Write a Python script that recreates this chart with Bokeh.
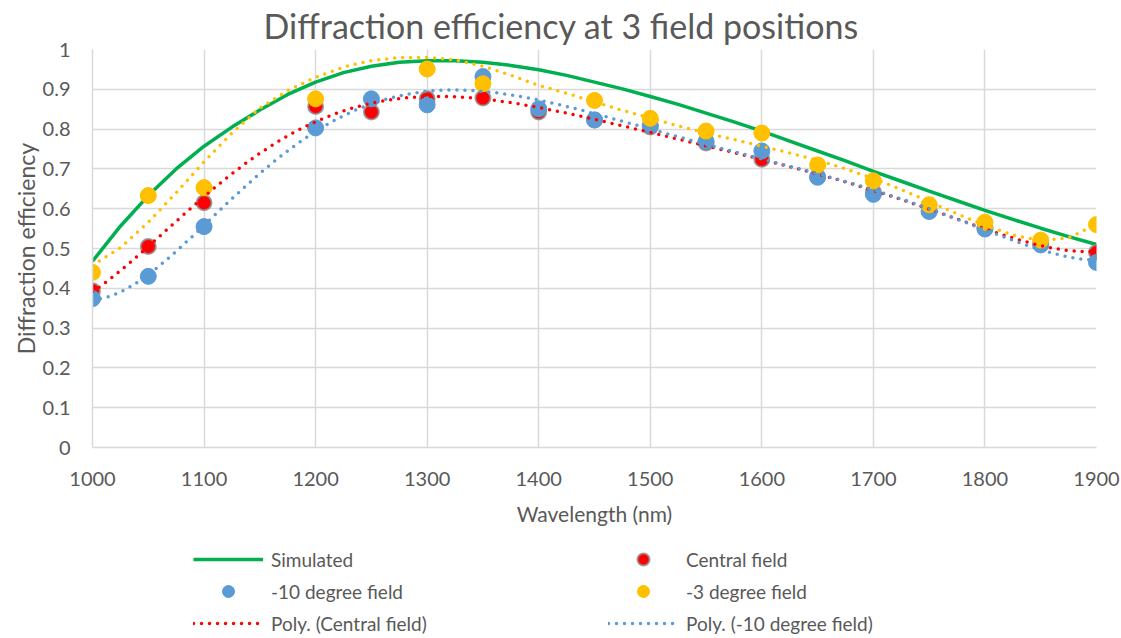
import numpy as np
from bokeh.plotting import figure
from bokeh.layouts import column
from bokeh.models import Legend, LegendItem, NumeralTickFormatter, FixedTicker, Range1d
from bokeh.embed import file_html
from bokeh.resources import INLINE

# ---- data ----
sim_wl = [1000, 1025, 1050, 1075, 1100, 1125, 1150, 1175, 1200, 1225, 1250, 1275, 1300, 1325,
          1350, 1375, 1400, 1425, 1450, 1475, 1500, 1525, 1550, 1575, 1600, 1625, 1650, 1675,
          1700, 1725, 1750, 1775, 1800, 1825, 1850, 1875, 1900]
sim_eff = [0.468, 0.556, 0.633, 0.700, 0.757, 0.805, 0.848, 0.887, 0.918, 0.942, 0.958, 0.968,
           0.972, 0.972, 0.968, 0.960, 0.949, 0.935, 0.918, 0.901, 0.882, 0.862, 0.840, 0.818,
           0.795, 0.770, 0.745, 0.720, 0.694, 0.669, 0.644, 0.620, 0.596, 0.573, 0.551, 0.530, 0.510]

meas_wl = [1000, 1050, 1100, 1200, 1250, 1300, 1350, 1400, 1450, 1500, 1550, 1600, 1650, 1700,
           1750, 1800, 1850, 1900]
central = [0.394, 0.505, 0.615, 0.857, 0.843, 0.876, 0.878, 0.843, 0.823, 0.805, 0.765, 0.724,
           0.680, 0.642, 0.595, 0.553, 0.513, 0.490]
minus10 = [0.374, 0.430, 0.555, 0.803, 0.876, 0.861, 0.932, 0.851, 0.823, 0.809, 0.769, 0.745,
           0.679, 0.636, 0.593, 0.549, 0.509, 0.465]
minus3 = [0.440, 0.633, 0.653, 0.876, np.nan, 0.951, 0.914, np.nan, 0.872, 0.827, 0.795, 0.790,
          0.710, 0.670, 0.610, 0.566, 0.521, 0.560]

# trend line of the -3 degree field (no legend entry)
trend3_wl = sim_wl
trend3_eff = [0.458, 0.502, 0.566, 0.640, 0.718, 0.790, 0.853, 0.897, 0.930, 0.956, 0.972, 0.980,
              0.980, 0.974, 0.958, 0.935, 0.910, 0.890, 0.868, 0.847, 0.828, 0.808, 0.790, 0.774,
              0.757, 0.740, 0.722, 0.700, 0.676, 0.648, 0.618, 0.587, 0.558, 0.534, 0.520, 0.527, 0.560]

x_ticks = [1000, 1100, 1200, 1300, 1400, 1500, 1600, 1700, 1800, 1900]
y_ticks = [0, 0.1, 0.2, 0.3, 0.4, 0.5, 0.6, 0.7, 0.8, 0.9, 1.0]

POLY_ORDER = 6

def poly_trend(xs, ys, order):
    xs = np.asarray(xs, dtype=float)
    ys = np.asarray(ys, dtype=float)
    m = ~np.isnan(ys)
    xn = (xs[m] - 1450.0) / 450.0
    c = np.polyfit(xn, ys[m], order)
    xt = np.linspace(xs.min(), xs.max(), 181)
    return xt, np.polyval(c, (xt - 1450.0) / 450.0)

FONT = "Lato"
TXT = "#595959"
GRID = "#d9d9d9"
GREEN = "#00B050"
RED = "#FF0000"
BLUE = "#5B9BD5"
YELLOW = "#FFC000"
DOT = "0 8"

p = figure(width=1121, height=545, output_backend="svg", toolbar_location=None,
           x_range=Range1d(1000, 1900), y_range=Range1d(0, 1),
           min_border_left=92, min_border_right=25, min_border_top=49, min_border_bottom=98)
p.outline_line_color = None
p.background_fill_color = "white"
p.border_fill_color = "white"

p.title.text = "Diffraction efficiency at 3 field positions"
p.title.text_font = FONT
p.title.text_font_size = "34px"
p.title.text_font_style = "normal"
p.title.text_color = TXT
p.title.align = "left"
p.title.offset = 171
p.title.standoff = 4
p.title.vertical_align = "top"
p.title.text_line_height = 0.8

for ax in (p.xaxis[0], p.yaxis[0]):
    ax.axis_line_color = GRID
    ax.axis_line_width = 1.5
    ax.major_tick_line_color = None
    ax.minor_tick_line_color = None
    ax.major_tick_out = 0
    ax.major_tick_in = 0
    ax.minor_tick_out = 0
    ax.major_label_text_font = FONT
    ax.major_label_text_font_size = "20px"
    ax.major_label_text_color = TXT
    ax.axis_label_text_font = FONT
    ax.axis_label_text_font_style = "normal"
    ax.axis_label_text_color = TXT

p.xaxis.axis_label_text_font_size = "21px"
p.yaxis.axis_label_text_font_size = "23px"
p.xaxis.ticker = FixedTicker(ticks=x_ticks)
p.yaxis.ticker = FixedTicker(ticks=y_ticks)
p.yaxis.formatter = NumeralTickFormatter(format="0.[0]")
p.xaxis.axis_label = "Wavelength (nm)"
p.yaxis.axis_label = "Diffraction efficiency"
p.xaxis.major_label_standoff = 24
p.yaxis.major_label_standoff = 22
p.xaxis.axis_label_standoff = 12
p.yaxis.axis_label_standoff = 0

p.xgrid.grid_line_color = GRID
p.ygrid.grid_line_color = GRID
p.xgrid.grid_line_width = 1.5
p.ygrid.grid_line_width = 1.5

def draw_series(fig):
    r = {}
    r["sim"] = fig.line(sim_wl, sim_eff, line_color=GREEN, line_width=3.5)
    r["c"] = fig.scatter(meas_wl, central, size=15, fill_color=RED, line_color="#8c8c8c",
                         line_width=2, line_alpha=0.8)
    r["b"] = fig.scatter(meas_wl, minus10, size=16, fill_color=BLUE, line_color=BLUE)
    r["y"] = fig.scatter(meas_wl, minus3, size=16, fill_color=YELLOW, line_color=YELLOW)
    r["ty"] = fig.line(trend3_wl, trend3_eff, line_color=YELLOW, line_width=3.5,
                       line_dash=DOT, line_cap="round")
    tx, ty = poly_trend(meas_wl, central, POLY_ORDER)
    r["tc"] = fig.line(tx, ty, line_color=RED, line_width=3.5, line_dash=DOT, line_cap="round")
    tx, ty = poly_trend(meas_wl, minus10, POLY_ORDER)
    r["tb"] = fig.line(tx, ty, line_color=BLUE, line_width=3.5, line_dash=DOT, line_cap="round")
    return r

draw_series(p)

# ---- legend strip below the chart (its series lie outside its own empty view) ----
lg = figure(width=1121, height=93, output_backend="svg", toolbar_location=None,
            x_range=Range1d(0, 1), y_range=Range1d(0, 1),
            min_border=0, x_axis_type=None, y_axis_type=None)
lg.outline_line_color = None
lg.xgrid.visible = False
lg.ygrid.visible = False
lg.border_fill_color = "white"
e = draw_series(lg)

def make_legend(items, loc):
    L = Legend(items=items, location=loc, orientation="vertical")
    L.border_line_color = None
    L.background_fill_alpha = 0
    L.padding = 0
    L.margin = 0
    L.glyph_width = 70
    L.glyph_height = 30
    L.label_height = 30
    L.label_standoff = 8
    L.spacing = 2
    L.label_text_font = FONT
    L.label_text_font_size = "19px"
    L.label_text_color = TXT
    return L

lg.add_layout(make_legend([
    LegendItem(label="Simulated", renderers=[e["sim"]]),
    LegendItem(label="-10 degree field", renderers=[e["b"]]),
    LegendItem(label="Poly. (Central field)", renderers=[e["tc"]]),
], (101, 0)), "center")
lg.add_layout(make_legend([
    LegendItem(label="Central field", renderers=[e["c"]]),
    LegendItem(label="-3 degree field", renderers=[e["y"]]),
    LegendItem(label="Poly. (-10 degree field)", renderers=[e["tb"]]),
], (516, 0)), "center")

layout = column(p, lg, spacing=0)
open("out.html", "w").write(file_html(layout, INLINE))
